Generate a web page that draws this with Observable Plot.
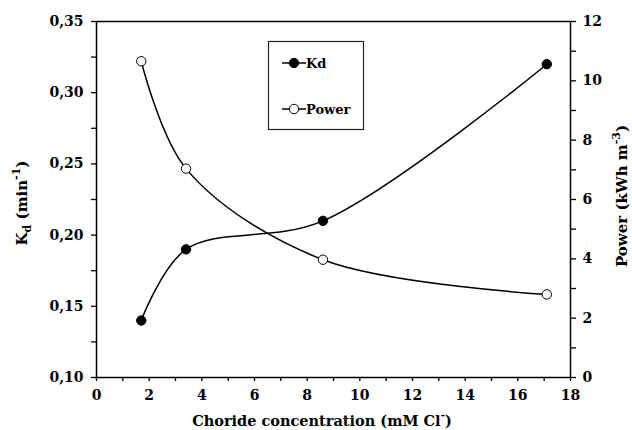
<!DOCTYPE html>
<html><head><meta charset="utf-8">
<script src="https://cdn.jsdelivr.net/npm/d3@7"></script>
<script src="https://cdn.jsdelivr.net/npm/@observablehq/plot@0.6"></script>
<style>
body{margin:0;background:#fff}
svg text{font-family:"DejaVu Serif",serif;}
</style>
</head><body><div id="chart"></div>
<script>
// ---- data ----
const conc = [1.7, 3.4, 8.6, 17.1];
const kdValues = [0.14, 0.19, 0.21, 0.32];
const powerValues = [10.66, 7.04, 3.97, 2.80];
const seriesNames = ["Kd", "Power"];
const xTicks = [0, 2, 4, 6, 8, 10, 12, 14, 16, 18];
const xMinorTicks = [1, 3, 5, 7, 9, 11, 13, 15, 17];
const kdTicks = [0.10, 0.15, 0.20, 0.25, 0.30, 0.35];
const kdMinorTicks = [0.125, 0.175, 0.225, 0.275, 0.325];
const powerTicks = [0, 2, 4, 6, 8, 10, 12];
const powerMinorTicks = [1, 3, 5, 7, 9, 11];
const kdDomain = [0.10, 0.35];
const powerDomain = [0, 12];

const toKd = p => kdDomain[0] + (p - powerDomain[0]) * (kdDomain[1] - kdDomain[0]) / (powerDomain[1] - powerDomain[0]);
const toPower = v => powerDomain[0] + (v - kdDomain[0]) * (powerDomain[1] - powerDomain[0]) / (kdDomain[1] - kdDomain[0]);
const comma = d => d.toFixed(2).replace(".", ",");

const kdData = conc.map((x, i) => ({x, y: kdValues[i]}));
const powerData = conc.map((x, i) => ({x, y: toKd(powerValues[i])}));

const FONT = "DejaVu Serif";
const tickOpts = {stroke: "black", strokeWidth: 1.3, fontFamily: FONT};

const chart = Plot.plot({
  width: 632, height: 430,
  marginLeft: 96, marginRight: 62, marginTop: 21, marginBottom: 53,
  x: {domain: [0, 18]},
  y: {domain: kdDomain},
  style: {fontFamily: FONT, fontSize: "14px", fontWeight: "bold", color: "black", background: "white"},
  marks: [
    Plot.axisX({ticks: xMinorTicks, tickSize: 4, tickFormat: () => "", label: null, ...tickOpts}),
    Plot.axisX({ticks: xTicks, tickSize: 4, tickPadding: 9, tickFormat: d => String(d), label: null, ...tickOpts}),
    Plot.axisY({ticks: kdMinorTicks, tickSize: 5, tickFormat: () => "", label: null, ...tickOpts}),
    Plot.axisY({ticks: kdTicks, tickSize: 5, tickPadding: 8, tickFormat: comma, label: null, ...tickOpts}),
    Plot.axisY({anchor: "right", ticks: powerMinorTicks.map(toKd), tickSize: 5, tickFormat: () => "", label: null, ...tickOpts}),
    Plot.axisY({anchor: "right", ticks: powerTicks.map(toKd), tickSize: 5, tickPadding: 7, tickFormat: v => String(Math.round(toPower(v))), label: null, ...tickOpts}),
    Plot.frame({stroke: "black", strokeWidth: 1.5}),
    Plot.line(kdData, {x: "x", y: "y", curve: "catmull-rom", stroke: "black", strokeWidth: 1.5}),
    Plot.line(powerData, {x: "x", y: "y", curve: "catmull-rom", stroke: "black", strokeWidth: 1.5}),
    Plot.dot(kdData, {x: "x", y: "y", r: 4.7, fill: "black", stroke: "black", strokeWidth: 1}),
    Plot.dot(powerData, {x: "x", y: "y", r: 4.7, fill: "white", stroke: "black", strokeWidth: 1})
  ]
});
document.getElementById("chart").appendChild(chart);

// ---- titles & legend ----
const svg = d3.select(chart);
const g = svg.append("g")
  .attr("font-family", FONT).attr("font-weight", "bold").attr("fill", "black");

// left title: K_d (min^-1)
const lt = g.append("text").attr("transform", "translate(27,203) rotate(-90)")
  .attr("text-anchor", "middle").attr("font-size", 15);
lt.append("tspan").text("K");
lt.append("tspan").attr("font-size", 11).attr("dy", 4).text("d");
lt.append("tspan").attr("dy", -4).text(" (min");
lt.append("tspan").attr("font-size", 11).attr("dy", -7).text("-1");
lt.append("tspan").attr("dy", 7).text(")");

// right title: Power (kWh m^-3)
const rt = g.append("text").attr("transform", "translate(627,196) rotate(-90)")
  .attr("text-anchor", "middle").attr("font-size", 15);
rt.append("tspan").text("Power (kWh m");
rt.append("tspan").attr("font-size", 11).attr("dy", -7).text("-3");
rt.append("tspan").attr("dy", 7).text(")");

// x title
const xt = g.append("text").attr("x", 322).attr("y", 426)
  .attr("text-anchor", "middle").attr("font-size", 14.5);
xt.append("tspan").text("Choride concentration (mM Cl");
xt.append("tspan").attr("font-size", 10.5).attr("dy", -7).text("-");
xt.append("tspan").attr("dy", 7).text(")");

// legend
const lg = g.append("g");
lg.append("rect").attr("x", 268.5).attr("y", 41.5).attr("width", 95).attr("height", 88)
  .attr("fill", "white").attr("stroke", "#222").attr("stroke-width", 1.2);
const legendRows = [{name: seriesNames[0], fill: "black", y: 63}, {name: seriesNames[1], fill: "white", y: 109}];
legendRows.forEach(r => {
  lg.append("line").attr("x1", 282).attr("x2", 306).attr("y1", r.y).attr("y2", r.y)
    .attr("stroke", "black").attr("stroke-width", 1.5);
  lg.append("circle").attr("cx", 294).attr("cy", r.y).attr("r", 4.7)
    .attr("fill", r.fill).attr("stroke", "black").attr("stroke-width", 1);
  lg.append("text").attr("x", 306).attr("y", r.y + 5).attr("text-anchor", "start")
    .attr("font-size", 13).text(r.name);
});
</script>
</body></html>
